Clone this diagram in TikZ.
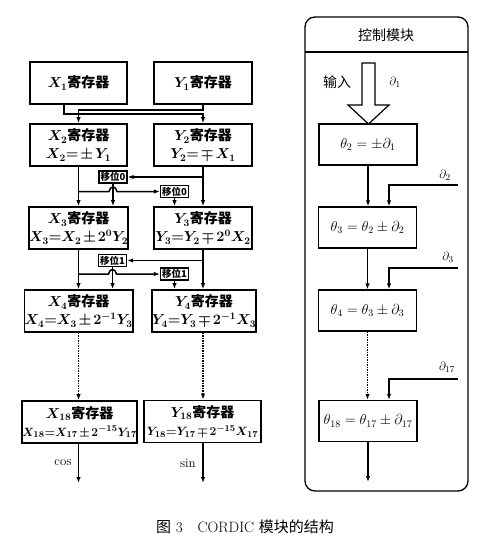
\documentclass[tikz,border=0pt]{standalone}
\usepackage{fontspec}
\usetikzlibrary{arrows.meta}
\newfontfamily\cjk{Noto Sans CJK SC}
\newcommand\regfont{\fontsize{14}{18}\selectfont\boldmath\medmuskip=2mu\relax\thickmuskip=1mu\relax}
\begin{document}
\begin{tikzpicture}[x=1pt,y=-1pt,
  every node/.style={inner sep=0pt},
  reg/.style={draw,line width=1.8pt,minimum height=42pt,align=center,font=\regfont},
  shiftbox/.style={draw,line width=1.3pt,fill=white,minimum width=28pt,minimum height=12pt,font=\cjk\bfseries\fontsize{9.5}{10}\selectfont},
  thbox/.style={draw,line width=1.3pt,minimum width=98pt,minimum height=41pt,font=\fontsize{14}{16}\selectfont},
  conn/.style={line width=1.5pt,-{Latex[length=6pt,width=4.5pt]}},
  lbl/.style={font=\fontsize{13}{13}\selectfont},
]
\useasboundingbox (0,0) rectangle (492,548);

% ---------- left: registers ----------
\node[reg,minimum width=97pt] (X1) at (78.5,83) {$X_1${\cjk\bfseries 寄存器}};
\node[reg,minimum width=98pt] (Y1) at (203,83) {$Y_1${\cjk\bfseries 寄存器}};
\node[reg,minimum width=97pt] (X2) at (78.5,145) {$X_2${\cjk\bfseries 寄存器}\\$X_2{=}\pm Y_1$};
\node[reg,minimum width=98pt] (Y2) at (203,145) {$Y_2${\cjk\bfseries 寄存器}\\$Y_2{=}\mp X_1$};
\node[reg,minimum width=97pt] (X3) at (78.5,228) {$X_3${\cjk\bfseries 寄存器}\\$X_3{=}X_2\pm 2^0Y_2$};
\node[reg,minimum width=98pt] (Y3) at (203,228) {$Y_3${\cjk\bfseries 寄存器}\\$Y_3{=}Y_2\mp 2^0X_2$};
\node[reg,minimum width=97pt] (X4) at (78.5,311) {$X_4${\cjk\bfseries 寄存器}\\$X_4{=}X_3\pm 2^{-1}Y_3$};
\node[reg,minimum width=101pt] (Y4) at (204,311) {$Y_4${\cjk\bfseries 寄存器}\\$Y_4{=}Y_3\mp 2^{-1}X_3$};
\node[reg,minimum width=115pt] (X18) at (79.5,422) {$X_{18}${\cjk\bfseries 寄存器}\\\fontsize{13}{18}\selectfont$X_{18}{=}X_{17}\pm 2^{-15}Y_{17}$};
\node[reg,minimum width=117pt] (Y18) at (202.5,421.5) {$Y_{18}${\cjk\bfseries 寄存器}\\\fontsize{13}{18}\selectfont$Y_{18}{=}Y_{17}\mp 2^{-15}X_{17}$};

% crossing from row 1 to row 2
\draw[conn] ([xshift=-14.5pt]X1.south) |- (203,114) -- (Y2.north -| 203,0);
\draw[conn] (Y1.south) |- (78.5,110) -- (X2.north);

% shift stage 0
\node[shiftbox] (S0a) at (113,177) {移位0};
\node[shiftbox] (S0b) at (174.5,191.5) {移位0};
\draw[conn] (X2.south) -- (X3.north);
\draw[conn] (Y2.south) -- (Y3.north);
\draw[conn] (Y2.south |- S0a.east) -- (S0a.east);
\draw[conn] (S0a.south) -- (S0a.south |- X3.north);
\draw[conn] (X2.south |- S0b.west) -- (109,191.5) .. controls (110,185.5) and (116,185.5) .. (117,191.5) -- (S0b.west);
\draw[conn] (S0b.south) -- (S0b.south |- Y3.north);

% shift stage 1
\node[shiftbox] (S1a) at (112.5,260.5) {移位1};
\node[shiftbox] (S1b) at (174.5,274) {移位1};
\draw[conn] (X3.south) -- (X4.north);
\draw[conn] (Y3.south) -- (Y4.north -| Y3.south);
\draw[conn] (Y3.south |- S1a.east) -- (S1a.east);
\draw[conn] (S1a.south) -- (S1a.south |- X4.north);
\draw[conn] (X3.south |- S1b.west) -- (108.5,274) .. controls (109.5,268) and (115.5,268) .. (116.5,274) -- (S1b.west);
\draw[conn] (S1b.south) -- (S1b.south |- Y4.north);

% dotted continuation
\draw[conn,densely dotted] (X4.south) -- (X4.south |- X18.north);
\draw[conn,densely dotted] (Y4.south -| Y3.south) -- (Y3.south |- Y18.north);

% outputs
\coordinate (cosend) at (78.5,483);
\coordinate (sinend) at (203,483);
\draw[conn] (X18.south -| cosend) -- (cosend);
\draw[conn] (Y18.south -| sinend) -- (sinend);
\node[lbl] (cos) at (63,463) {cos};
\node[lbl] (sin) at (188,463) {sin};

% ---------- right: control module ----------
\draw[line width=1.3pt,rounded corners=10pt] (305,17) rectangle (468,491);
\draw[line width=1.2pt] (305,52) -- (468,52);
\node[font=\cjk\fontsize{14}{14}\selectfont] (title) at (386,35) {控制模块};

\draw[line width=1.2pt,fill=white] (362,63) -- (375,63) -- (375,105) -- (389,105) -- (368.5,124) -- (348,105) -- (362,105) -- cycle;
\node[font=\cjk\fontsize{14}{14}\selectfont] (in) at (337,82) {输入};
\node[font=\fontsize{13}{13}\selectfont] (d1) at (395,82) {$\partial_1$};

\node[thbox] (T2) at (368,144.5) {$\theta_2 = \pm\partial_1$};
\node[thbox] (T3) at (367.5,227.5) {$\theta_3 = \theta_2 \pm\partial_2$};
\node[thbox] (T4) at (367.5,310.5) {$\theta_4 = \theta_3 \pm\partial_3$};
\node[thbox] (T18) at (368,421) {$\theta_{18} = \theta_{17} \pm\partial_{17}$};

\draw[conn] (T2.south) -- (T2.south |- T3.north);
\draw[conn] (T3.south) -- (T3.south |- T4.north);
\draw[conn,densely dotted] (T4.south) -- (T4.south |- T18.north);
\coordinate (tout) at (368,482);
\draw[conn] (T18.south -| tout) -- (tout);

\coordinate (p2) at (458,185);
\coordinate (p3) at (458,268);
\coordinate (p17) at (458,379);
\draw[conn] (p2) -| ([xshift=21.5pt]T3.north);
\draw[conn] (p3) -| ([xshift=21.5pt]T4.north);
\draw[conn] (p17) -| ([xshift=21pt]T18.north);
\node[font=\fontsize{13}{13}\selectfont] (d2) at (445,175) {$\partial_2$};
\node[font=\fontsize{13}{13}\selectfont] (d3) at (448,257) {$\partial_3$};
\node[font=\fontsize{13}{13}\selectfont] (d17) at (447,367) {$\partial_{17}$};

% caption
\node[font=\fontsize{15}{15}\selectfont] (cap) at (245,527) {{\cjk 图} 3\quad CORDIC {\cjk 模块的结构}};
\end{tikzpicture}
\end{document}
